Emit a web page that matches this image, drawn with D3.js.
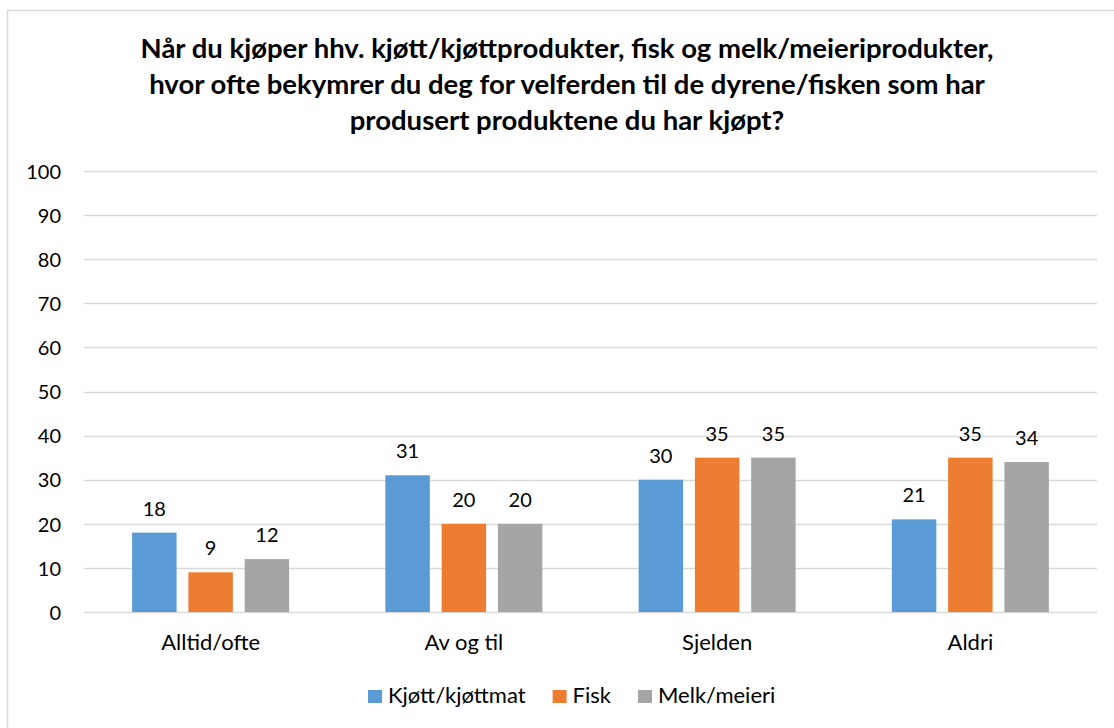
<!DOCTYPE html>
<html>
<head>
<meta charset="utf-8">
<script src="https://cdn.jsdelivr.net/npm/d3@7"></script>
<style>
  body { margin: 0; background: #fff; }
  text { font-family: Lato, "Open Sans", sans-serif; fill: #000; }
</style>
</head>
<body>
<div id="container"></div>
<script>
// chart values
const titleLines = [
  "Når du kjøper hhv. kjøtt/kjøttprodukter, fisk og melk/meieriprodukter,",
  "hvor ofte bekymrer du deg for velferden til de dyrene/fisken som har",
  "produsert produktene du har kjøpt?"
];
const categories = ["Alltid/ofte", "Av og til", "Sjelden", "Aldri"];
const seriesNames = ["Kjøtt/kjøttmat", "Fisk", "Melk/meieri"];
const kjott = [18, 31, 30, 21];
const fisk = [9, 20, 35, 35];
const melk = [12, 20, 35, 34];
const yTicks = [0, 10, 20, 30, 40, 50, 60, 70, 80, 90, 100];
const colors = ["#5B9BD5", "#ED7D31", "#A5A5A5"];

const seriesValues = [kjott, fisk, melk];

const widthSVG = 1114, heightSVG = 728;
const plot = { left: 84, right: 1097, top: 171, bottom: 612 };

const svg = d3.select("#container")
  .append("svg")
  .attr("width", widthSVG)
  .attr("height", heightSVG);

// outer border of the chart area (runs past the right/bottom edge)
svg.append("rect")
  .attr("x", 7.5).attr("y", 10.5)
  .attr("width", 1130).attr("height", 740)
  .attr("fill", "none")
  .attr("stroke", "#D9D9D9")
  .attr("stroke-width", 1.5);

// title
svg.append("g")
  .selectAll("text")
  .data(titleLines)
  .enter()
  .append("text")
  .attr("x", 567)
  .attr("y", (d, i) => 58 + i * 36)
  .attr("text-anchor", "middle")
  .style("font-size", "27.5px")
  .style("font-weight", "bold")
  .text(d => d);

const y = d3.scaleLinear().domain([0, 100]).range([plot.bottom, plot.top]);

const x = d3.scaleBand()
  .domain(categories)
  .range([plot.left, plot.right])
  .padding(0);

const groupWidth = x.bandwidth() * 0.62;
const xs = d3.scaleBand()
  .domain(seriesNames)
  .range([0, groupWidth])
  .paddingInner(0.21)
  .paddingOuter(0);

// gridlines
svg.append("g")
  .selectAll("line")
  .data(yTicks)
  .enter()
  .append("line")
  .attr("x1", plot.left).attr("x2", plot.right)
  .attr("y1", d => Math.round(y(d)) + 0.5)
  .attr("y2", d => Math.round(y(d)) + 0.5)
  .attr("stroke", "#D9D9D9")
  .attr("stroke-width", 1.3);

// y axis labels
const yAxis = d3.axisLeft(y).tickValues(yTicks).tickSize(0).tickPadding(0);
svg.append("g")
  .attr("transform", "translate(61,0)")
  .call(yAxis)
  .call(g => g.select(".domain").remove())
  .call(g => g.selectAll("text")
    .attr("dy", "0.36em")
    .style("font-size", "20px")
    .style("font-family", "Lato, sans-serif")
    .attr("fill", "#000"));

// x axis labels
const xAxis = d3.axisBottom(x).tickSize(0).tickPadding(0);
svg.append("g")
  .attr("transform", `translate(0,${plot.bottom})`)
  .call(xAxis)
  .call(g => g.select(".domain").remove())
  .call(g => g.selectAll("text")
    .attr("y", 38)
    .attr("dy", 0)
    .style("font-size", "22px")
    .style("font-family", "Lato, sans-serif")
    .attr("fill", "#000"));

// bars
const groups = svg.append("g")
  .selectAll("g")
  .data(categories)
  .enter()
  .append("g")
  .attr("transform", d => `translate(${x(d) + (x.bandwidth() - groupWidth) / 2},0)`);

groups.selectAll("rect")
  .data((d, i) => seriesNames.map((s, j) => ({ s, j, v: seriesValues[j][i] })))
  .enter()
  .append("rect")
  .attr("x", d => xs(d.s))
  .attr("y", d => y(d.v))
  .attr("width", xs.bandwidth())
  .attr("height", d => y(0) - y(d.v))
  .attr("fill", d => colors[d.j]);

// value labels above bars
groups.selectAll("text")
  .data((d, i) => seriesNames.map((s, j) => ({ s, j, v: seriesValues[j][i] })))
  .enter()
  .append("text")
  .attr("x", d => xs(d.s) + xs.bandwidth() / 2)
  .attr("y", d => y(d.v) - 17)
  .attr("text-anchor", "middle")
  .style("font-size", "20px")
  .text(d => d.v);

// legend
const legend = svg.append("g").attr("id", "legend");
let lx = 368;
seriesNames.forEach((name, i) => {
  legend.append("rect")
    .attr("x", lx).attr("y", 690)
    .attr("width", 14).attr("height", 13)
    .attr("fill", colors[i]);
  const t = legend.append("text")
    .attr("x", lx + 20).attr("y", 703)
    .style("font-size", "22px")
    .text(name);
  lx += 20 + t.node().getComputedTextLength() + 27;
});
</script>
</body>
</html>
